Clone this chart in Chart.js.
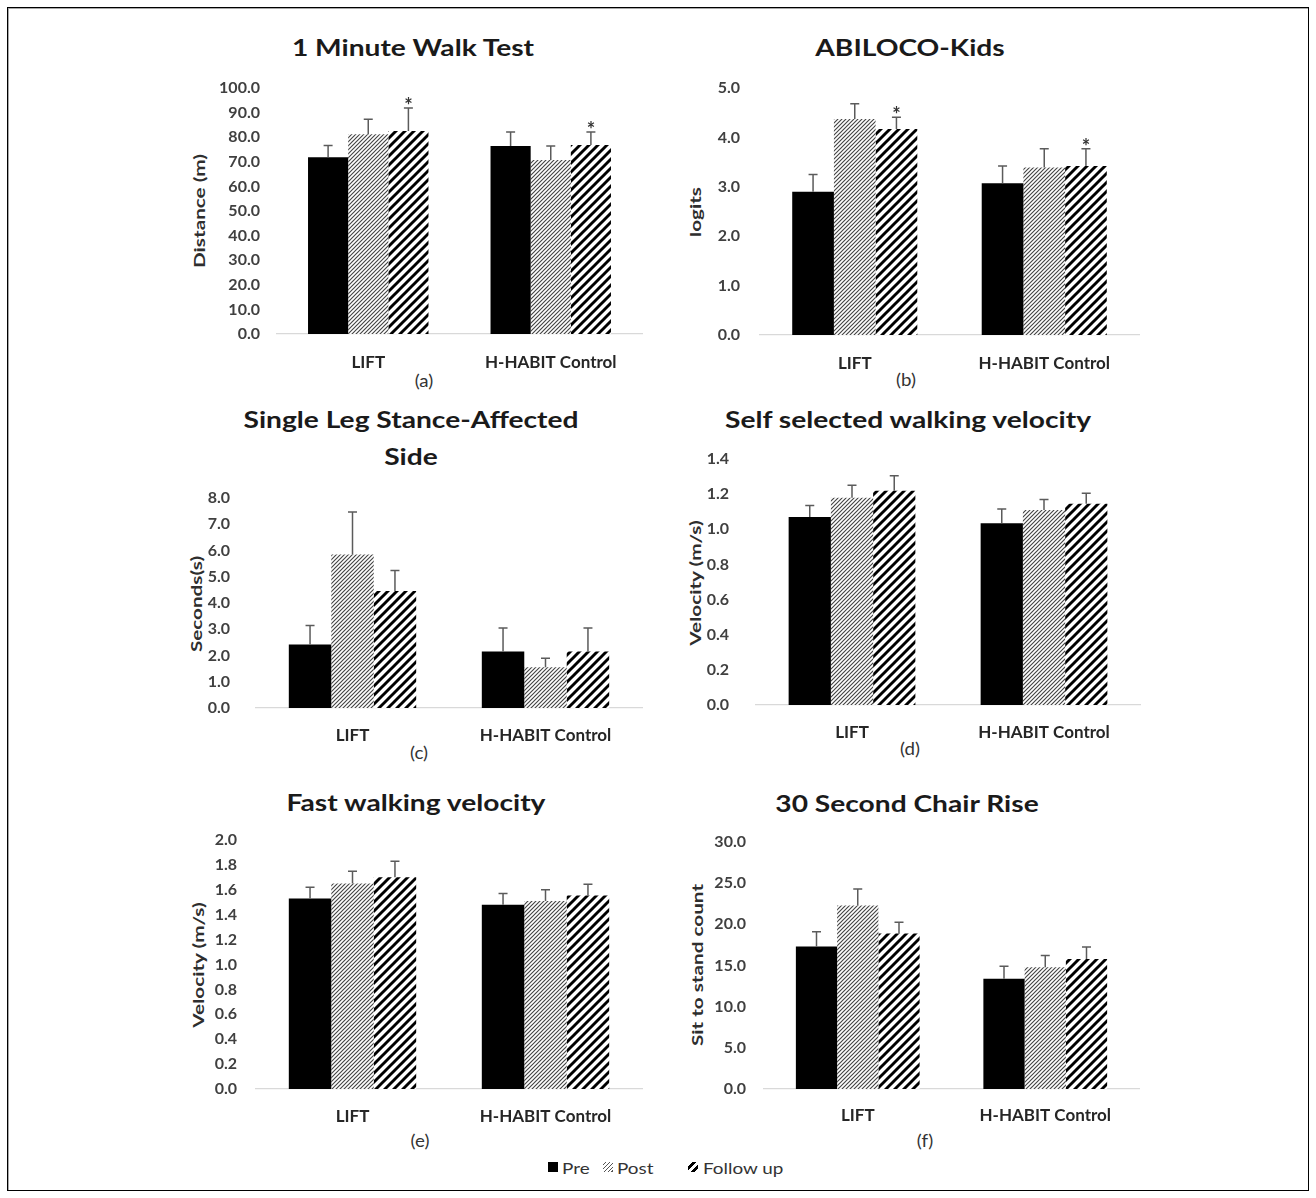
<!DOCTYPE html>
<html>
<head>
<meta charset="utf-8">
<script src="https://cdn.jsdelivr.net/npm/chart.js@4.4.1/dist/chart.umd.min.js"></script>
<style>
body { margin: 0; background: #fff; font-family: Lato, sans-serif; }
#page { position: relative; width: 1316px; height: 1198px; overflow: hidden; }
#frame { position: absolute; left: 7px; top: 7px; width: 1300px; height: 1182px; border: 1px solid #000; box-shadow: inset 1px 1px 0 #a8a8a8; }
canvas { position: absolute; }
.title { position: absolute; transform: translate(-50%, -50%) scaleX(1.28); font-weight: 700; font-size: 22px; color: #1a1a1a; white-space: nowrap; text-align: center; line-height: 37px; }
.ytitle { position: absolute; transform: translate(-50%, -50%) rotate(-90deg) scaleX(1.38); font-weight: 700; font-size: 15px; color: #2e2e2e; white-space: nowrap; }
.sub { position: absolute; transform: translate(-50%, -50%) scaleX(1.1); font-size: 17px; color: #333; }
.leg { position: absolute; top: 1167px; transform: translateY(-50%) scaleX(1.18); transform-origin: left center; font-size: 16px; color: #333; white-space: nowrap; }
.legbox { position: absolute; top: 1162px; width: 10px; height: 10px; }
</style>
</head>
<body>
<div id="page">
  <div id="frame"></div>

  <div class="title" style="left:413px;top:47px">1 Minute Walk Test</div>
  <div class="title" style="left:910px;top:47px">ABILOCO-Kids</div>
  <div class="title" style="left:411px;top:438px">Single Leg Stance-Affected<br>Side</div>
  <div class="title" style="left:908px;top:419px">Self selected walking velocity</div>
  <div class="title" style="left:416px;top:802px">Fast walking velocity</div>
  <div class="title" style="left:907px;top:803px">30 Second Chair Rise</div>

  <div class="ytitle" style="left:199px;top:211px">Distance (m)</div>
  <div class="ytitle" style="left:695px;top:212px">logits</div>
  <div class="ytitle" style="left:196px;top:604px">Seconds(s)</div>
  <div class="ytitle" style="left:695px;top:583px">Velocity (m/s)</div>
  <div class="ytitle" style="left:198px;top:965px">Velocity (m/s)</div>
  <div class="ytitle" style="left:697px;top:965px">Sit to stand count</div>

  <div class="sub" style="left:424px;top:380px">(a)</div>
  <div class="sub" style="left:906px;top:379px">(b)</div>
  <div class="sub" style="left:419px;top:752px">(c)</div>
  <div class="sub" style="left:910px;top:748px">(d)</div>
  <div class="sub" style="left:420px;top:1140px">(e)</div>
  <div class="sub" style="left:925px;top:1140px">(f)</div>

  <span class="legbox" style="left:548px;background:#000"></span>
  <span class="leg" style="left:562px">Pre</span>
  <span class="legbox" style="left:603px;background:repeating-linear-gradient(135deg,#fff 0 1.5px,#555 1.5px 2.8px)"></span>
  <span class="leg" style="left:617px">Post</span>
  <span class="legbox" style="left:688px;background:repeating-linear-gradient(135deg,#fff 0 3px,#000 3px 6px)"></span>
  <span class="leg" style="left:703px">Follow up</span>
</div>

<script>
const groups = ['LIFT', 'H-HABIT Control'];
const seriesNames = ['Pre', 'Post', 'Follow up'];

// (a) 1 Minute Walk Test
const walkPre = [71.8, 76.4];
const walkPost = [81.2, 70.7];
const walkFollow = [82.5, 76.8];
const walkPreSd = [4.8, 5.7];
const walkPostSd = [6.1, 5.7];
const walkFollowSd = [9.4, 5.3];
const walkFollowSig = [true, true];

// (b) ABILOCO-Kids
const abilPre = [2.90, 3.07];
const abilPost = [4.37, 3.39];
const abilFollow = [4.17, 3.42];
const abilPreSd = [0.35, 0.35];
const abilPostSd = [0.31, 0.38];
const abilFollowSd = [0.24, 0.35];
const abilFollowSig = [true, true];

// (c) Single Leg Stance-Affected Side
const slsPre = [2.42, 2.15];
const slsPost = [5.85, 1.55];
const slsFollow = [4.46, 2.15];
const slsPreSd = [0.72, 0.90];
const slsPostSd = [1.62, 0.35];
const slsFollowSd = [0.78, 0.90];

// (d) Self selected walking velocity
const selfPre = [1.07, 1.035];
const selfPost = [1.18, 1.11];
const selfFollow = [1.22, 1.145];
const selfPreSd = [0.065, 0.08];
const selfPostSd = [0.07, 0.06];
const selfFollowSd = [0.085, 0.06];

// (e) Fast walking velocity
const fastPre = [1.53, 1.48];
const fastPost = [1.65, 1.51];
const fastFollow = [1.70, 1.555];
const fastPreSd = [0.09, 0.09];
const fastPostSd = [0.10, 0.09];
const fastFollowSd = [0.13, 0.09];

// (f) 30 Second Chair Rise
const chairPre = [17.3, 13.4];
const chairPost = [22.3, 14.8];
const chairFollow = [18.9, 15.8];
const chairPreSd = [1.8, 1.5];
const chairPostSd = [2.0, 1.4];
const chairFollowSd = [1.35, 1.45];

// y axis ranges
const yMax = [100, 5, 8, 1.4, 2.0, 30];
const yStep = [10, 1, 1, 0.2, 0.2, 5];

function makePattern(size, width, color) {
    const c = document.createElement('canvas');
    c.width = size; c.height = size;
    const g = c.getContext('2d');
    g.fillStyle = '#fff';
    g.fillRect(0, 0, size, size);
    g.strokeStyle = color;
    g.lineWidth = width;
    g.beginPath();
    for (let k = -1; k <= 1; k++) {
        g.moveTo(-size + k * size, 2 * size);
        g.lineTo(2 * size + k * size, -size);
    }
    g.stroke();
    return c;
}

const errorBars = {
    id: 'errorBars',
    afterDatasetsDraw(chart) {
        const ctx = chart.ctx;
        const yScale = chart.scales.y;
        chart.data.datasets.forEach(function (ds, i) {
            const meta = chart.getDatasetMeta(i);
            meta.data.forEach(function (bar, j) {
                const top = yScale.getPixelForValue(ds.data[j] + ds.sd[j]);
                ctx.save();
                ctx.strokeStyle = '#5b5b5b';
                ctx.lineWidth = 1.5;
                ctx.beginPath();
                ctx.moveTo(bar.x, bar.y);
                ctx.lineTo(bar.x, top);
                ctx.moveTo(bar.x - 4.5, top);
                ctx.lineTo(bar.x + 4.5, top);
                ctx.stroke();
                if (ds.sig && ds.sig[j]) {
                    ctx.fillStyle = '#333';
                    ctx.font = 'bold 20px Lato';
                    ctx.textAlign = 'center';
                    ctx.textBaseline = 'alphabetic';
                    ctx.fillText('*', bar.x, top + 5);
                }
                ctx.restore();
            });
        });
    }
};

// plot box of each panel on the page
const panelBoxes = [
    { left: 277, right: 642, top: 88, bottom: 334, tickPad: 17, catY: 362 },
    { left: 760, right: 1139, top: 88, bottom: 335, tickPad: 20, catY: 363 },
    { left: 256, right: 642, top: 498, bottom: 708, tickPad: 26, catY: 735 },
    { left: 756, right: 1140, top: 459, bottom: 705, tickPad: 27, catY: 732 },
    { left: 256, right: 642, top: 840, bottom: 1089, tickPad: 19, catY: 1116 },
    { left: 764, right: 1139, top: 842, bottom: 1089, tickPad: 18, catY: 1115 }
];

const panelSeries = [
    [[walkPre, walkPreSd], [walkPost, walkPostSd], [walkFollow, walkFollowSd, walkFollowSig]],
    [[abilPre, abilPreSd], [abilPost, abilPostSd], [abilFollow, abilFollowSd, abilFollowSig]],
    [[slsPre, slsPreSd], [slsPost, slsPostSd], [slsFollow, slsFollowSd]],
    [[selfPre, selfPreSd], [selfPost, selfPostSd], [selfFollow, selfFollowSd]],
    [[fastPre, fastPreSd], [fastPost, fastPostSd], [fastFollow, fastFollowSd]],
    [[chairPre, chairPreSd], [chairPost, chairPostSd], [chairFollow, chairFollowSd]]
];

const page = document.getElementById('page');
const probe = document.createElement('canvas').getContext('2d');
const fills = [
    '#000000',
    probe.createPattern(makePattern(4, 1.15, '#444444'), 'repeat'),
    probe.createPattern(makePattern(9, 2.9, '#000000'), 'repeat')
];

const padTop = 55, padRight = 10, xAxisH = 50, yAxisW = 80;

for (let p = 0; p < panelBoxes.length; p++) {
    const box = panelBoxes[p];
    const cLeft = box.left - yAxisW;
    const cTop = box.top - padTop;
    const canvas = document.createElement('canvas');
    canvas.width = box.right + padRight - cLeft;
    canvas.height = box.bottom - cTop + xAxisH;
    canvas.style.left = cLeft + 'px';
    canvas.style.top = cTop + 'px';
    page.appendChild(canvas);

    const datasets = panelSeries[p].map(function (s, i) {
        return {
            label: seriesNames[i],
            data: s[0],
            sd: s[1],
            sig: s[2],
            backgroundColor: fills[i],
            borderWidth: 0,
            categoryPercentage: 0.66,
            barPercentage: 1
        };
    });

    new Chart(canvas, {
        type: 'bar',
        data: { labels: groups, datasets: datasets },
        options: {
            responsive: false,
            animation: false,
            events: [],
            layout: { padding: { top: padTop, right: padRight, left: 0, bottom: 0 } },
            plugins: { legend: { display: false }, tooltip: { enabled: false } },
            scales: {
                x: {
                    grid: { display: false, drawTicks: false },
                    border: { display: true, color: '#d9d9d9', width: 1.2 },
                    ticks: {
                        padding: box.catY - box.bottom - 10,
                        color: '#262626',
                        font: { family: 'Lato', size: 17, weight: 'bold' }
                    },
                    afterFit: function (s) { s.height = xAxisH; }
                },
                y: {
                    min: 0,
                    max: yMax[p],
                    grid: { display: false, drawTicks: false },
                    border: { display: false },
                    ticks: {
                        stepSize: yStep[p],
                        padding: box.tickPad,
                        color: '#404040',
                        font: { family: 'Lato', size: 16, weight: 'bold' },
                        callback: function (v) { return Number(v).toFixed(1); }
                    },
                    afterFit: function (s) { s.width = yAxisW; }
                }
            }
        },
        plugins: [errorBars]
    });
}
</script>
</body>
</html>
